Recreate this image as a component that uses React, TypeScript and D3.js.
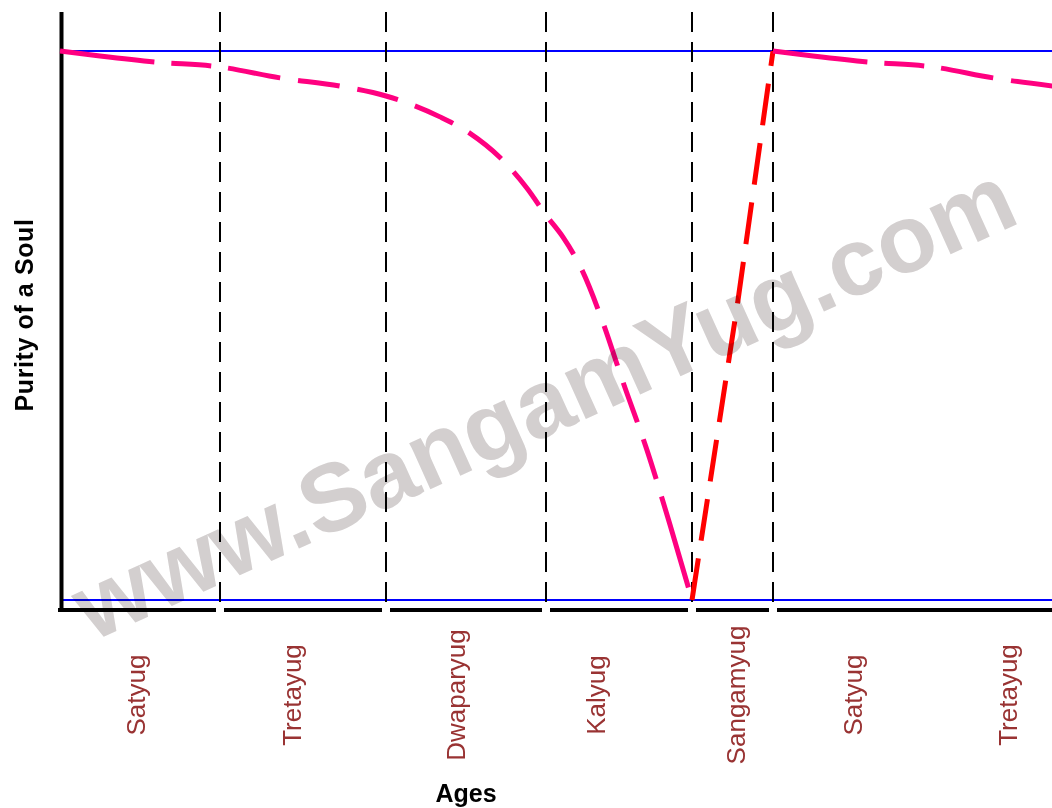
import * as d3 from "d3";

// ages along the cycle, label positions and the boundaries between them
const ages = ["Satyug", "Tretayug", "Dwaparyug", "Kalyug", "Sangamyug", "Satyug", "Tretayug"];
const agePos = [78, 234, 398, 538, 678, 795, 950];
const ageBounds = [160, 326, 486, 632, 713];

// purity of a soul (0 - 100) over the ages
const fallX = [0, 40, 95, 160, 220, 280, 326, 380, 410, 440, 467, 486, 503, 522, 543, 563, 587, 610, 632];
const fallPurity = [100, 99.1, 98, 97.1, 95.1, 93.6, 91.8, 88, 85, 80.6, 75, 70.1, 66.1, 60.1, 50.5, 39.7, 27.3, 13.7, 0];
const riseX = [632, 678, 713];
const risePurity = [0, 54.6, 100];
const nextX = [713, 753, 808, 873, 933, 993];
const nextPurity = [100, 99.1, 98, 97.1, 95.1, 93.6];

const W = 1052;
const H = 808;
const FONT = "'Liberation Sans', Arial, sans-serif";
const pinkDash = [95, 17, 40, 17, 53, 18, 42, 18, 42, 18, 42, 18, 42, 18, 42, 18, 42, 18, 42, 18, 42, 18, 42, 18, 42, 18].join(",");

export default function App() {
  const x = d3.scaleLinear().domain([0, 992]).range([60, 1052]);
  const y = d3.scaleLinear().domain([0, 100]).range([600, 51]);

  const mk = (xs: number[], ps: number[], c: any) =>
    d3
      .line<[number, number]>()
      .x((d) => x(d[0]))
      .y((d) => y(d[1]))
      .curve(c)(xs.map((v, i) => [v, ps[i]] as [number, number]));

  const fallPath = mk(fallX, fallPurity, d3.curveMonotoneX);
  const risePath = mk(riseX, risePurity, d3.curveLinear);
  const nextPath = mk(nextX, nextPurity, d3.curveMonotoneX);

  const axisY = y(0) + 10;
  const bounds = [0, ...ageBounds, 992];

  return (
    <svg
      width={W}
      height={H}
      style={{ position: "absolute", left: 0, top: 0, display: "block", background: "#fff" }}
    >
      {/* blue reference lines */}
      {[0, 100].map((p) => (
        <line key={p} x1={x(0)} x2={W} y1={y(p)} y2={y(p)} stroke="#0000ff" strokeWidth={1.8} />
      ))}

      {/* age boundaries */}
      {ageBounds.map((b, i) => (
        <line
          key={i}
          x1={x(b)}
          x2={x(b)}
          y1={12}
          y2={axisY + 2}
          stroke="#000"
          strokeWidth={2}
          strokeDasharray="20,10"
        />
      ))}

      {/* bottom axis, broken at each boundary */}
      {bounds.slice(0, -1).map((b, i) => (
        <line
          key={i}
          x1={i === 0 ? x(b) - 2 : x(b) + 4}
          x2={i === bounds.length - 2 ? W : x(bounds[i + 1]) - 4}
          y1={axisY}
          y2={axisY}
          stroke="#000"
          strokeWidth={4}
        />
      ))}
      <line x1={x(0) + 1.5} x2={x(0) + 1.5} y1={12} y2={axisY + 2} stroke="#000" strokeWidth={4} />

      {/* purity curves */}
      <path d={fallPath || ""} fill="none" stroke="#ff0080" strokeWidth={5} strokeDasharray={pinkDash} />
      <path d={risePath || ""} fill="none" stroke="#ff0000" strokeWidth={5} strokeDasharray="42,18" />
      <path d={nextPath || ""} fill="none" stroke="#ff0080" strokeWidth={5} strokeDasharray={pinkDash} />

      {/* age labels */}
      {ages.map((a, i) => (
        <text
          key={i}
          transform={`translate(${x(agePos[i])},695) rotate(-90)`}
          textAnchor="middle"
          dy="0.25em"
          fontFamily={FONT}
          fontSize={26}
          fill="#993333"
        >
          {a}
        </text>
      ))}

      {/* axis titles */}
      <text x={466} y={802} textAnchor="middle" fontFamily={FONT} fontWeight="bold" fontSize={25} fill="#000">
        Ages
      </text>
      <text
        transform="translate(33,315) rotate(-90)"
        textAnchor="middle"
        fontFamily={FONT}
        fontWeight="bold"
        fontSize={25}
        letterSpacing={0.6}
        fill="#000"
      >
        Purity of a Soul
      </text>

      {/* watermark */}
      <text
        transform="translate(92,642) rotate(-24.3)"
        fontFamily={FONT}
        fontWeight="bold"
        fontSize={96}
        fill="#d3cfcf"
        style={{ mixBlendMode: "multiply" }}
      >
        www.SangamYug.com
      </text>
    </svg>
  );
}
